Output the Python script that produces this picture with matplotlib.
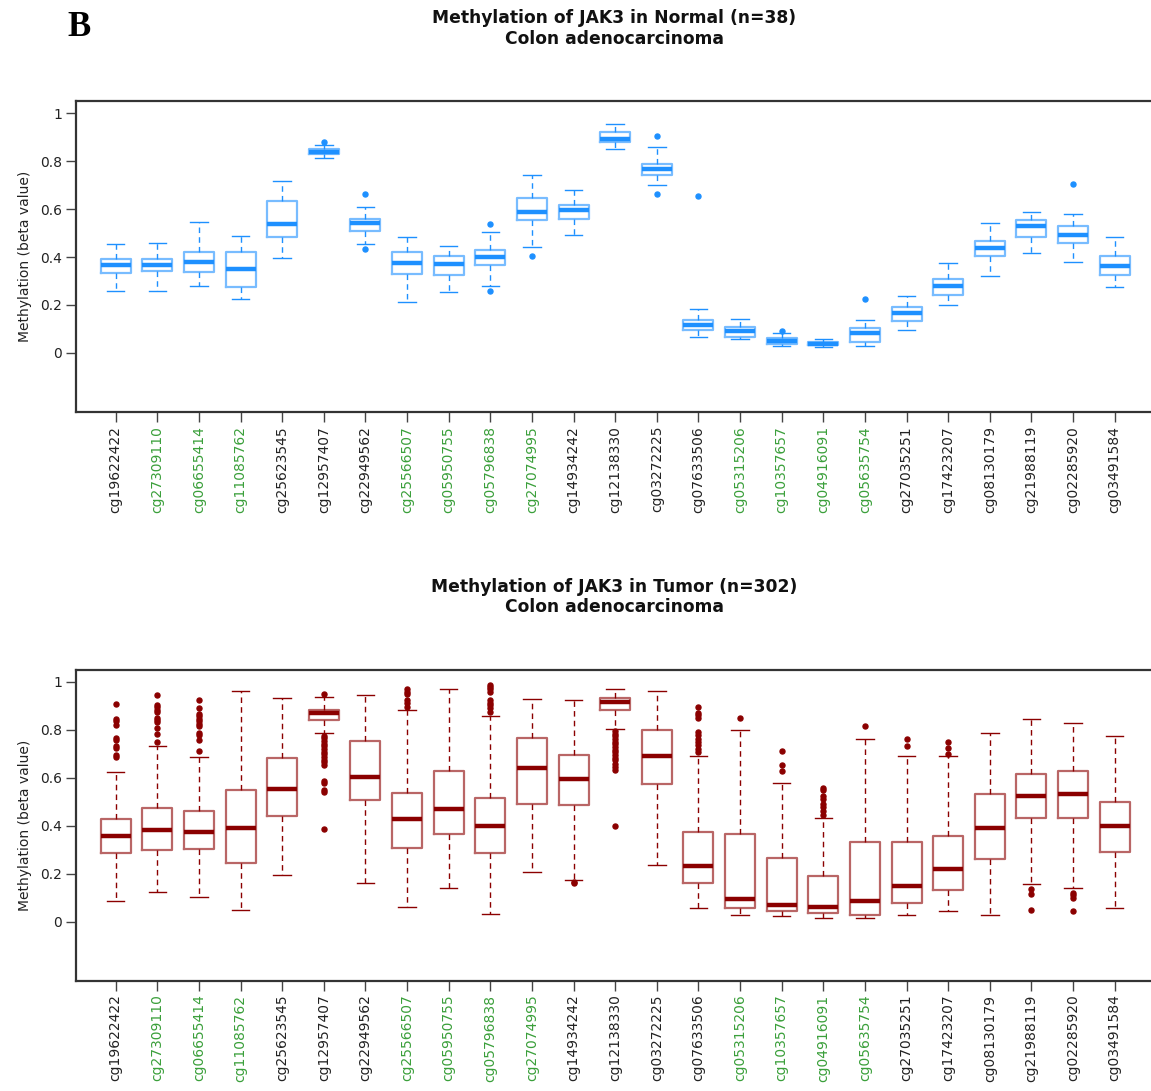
import matplotlib.pyplot as plt

probes = ["cg19622422", "cg27309110", "cg06655414", "cg11085762", "cg25623545",
          "cg12957407", "cg22949562", "cg25566507", "cg05950755", "cg05796838",
          "cg27074995", "cg14934242", "cg12138330", "cg03272225", "cg07633506",
          "cg05315206", "cg10357657", "cg04916091", "cg05635754", "cg27035251",
          "cg17423207", "cg08130179", "cg21988119", "cg02285920", "cg03491584"]
# probes printed in green
island_probes = ["cg27309110", "cg06655414", "cg11085762", "cg25566507", "cg05950755",
                 "cg05796838", "cg27074995", "cg05315206", "cg10357657", "cg04916091",
                 "cg05635754"]

# normal tissue, n=38
normal_whislo = [0.260, 0.260, 0.280, 0.227, 0.398, 0.812, 0.455, 0.214, 0.256, 0.280,
                 0.442, 0.494, 0.850, 0.702, 0.067, 0.058, 0.029, 0.024, 0.029, 0.096,
                 0.199, 0.323, 0.418, 0.379, 0.274]
normal_q1 = [0.333, 0.341, 0.337, 0.277, 0.485, 0.831, 0.510, 0.330, 0.327, 0.368,
             0.554, 0.561, 0.880, 0.741, 0.096, 0.068, 0.039, 0.031, 0.046, 0.134,
             0.241, 0.404, 0.486, 0.461, 0.326]
normal_med = [0.366, 0.366, 0.380, 0.352, 0.540, 0.841, 0.542, 0.376, 0.372, 0.400,
              0.589, 0.595, 0.893, 0.769, 0.116, 0.092, 0.050, 0.039, 0.082, 0.167,
              0.280, 0.437, 0.532, 0.494, 0.362]
normal_q3 = [0.393, 0.394, 0.422, 0.422, 0.636, 0.850, 0.560, 0.421, 0.403, 0.429,
             0.645, 0.617, 0.921, 0.790, 0.136, 0.110, 0.063, 0.046, 0.103, 0.191,
             0.308, 0.469, 0.553, 0.528, 0.403]
normal_whishi = [0.455, 0.460, 0.546, 0.490, 0.717, 0.869, 0.611, 0.485, 0.447, 0.504,
                 0.745, 0.680, 0.955, 0.859, 0.185, 0.142, 0.082, 0.057, 0.138, 0.237,
                 0.375, 0.542, 0.588, 0.579, 0.485]
normal_fliers = [[], [], [], [], [], [0.882], [0.664, 0.432], [], [], [0.539, 0.260],
                 [0.403], [], [], [0.905, 0.662], [0.655], [], [0.093], [], [0.224], [],
                 [], [], [], [0.706], []]

# tumour tissue, n=302
tumor_whislo = [0.085, 0.123, 0.103, 0.047, 0.194, 0.787, 0.162, 0.060, 0.141, 0.032,
                0.208, 0.174, 0.805, 0.237, 0.056, 0.026, 0.022, 0.014, 0.014, 0.028,
                0.042, 0.028, 0.156, 0.141, 0.056]
tumor_q1 = [0.287, 0.299, 0.301, 0.245, 0.439, 0.843, 0.506, 0.306, 0.365, 0.288,
            0.489, 0.487, 0.883, 0.575, 0.160, 0.057, 0.046, 0.035, 0.028, 0.079,
            0.130, 0.260, 0.432, 0.432, 0.292]
tumor_med = [0.357, 0.383, 0.373, 0.389, 0.554, 0.869, 0.602, 0.426, 0.469, 0.398,
             0.641, 0.593, 0.916, 0.692, 0.231, 0.095, 0.071, 0.060, 0.085, 0.150,
             0.221, 0.389, 0.525, 0.531, 0.398]
tumor_q3 = [0.428, 0.476, 0.461, 0.547, 0.681, 0.882, 0.753, 0.538, 0.630, 0.517,
            0.765, 0.696, 0.932, 0.801, 0.372, 0.366, 0.265, 0.192, 0.331, 0.330,
            0.358, 0.533, 0.616, 0.628, 0.499]
tumor_whishi = [0.625, 0.734, 0.687, 0.962, 0.933, 0.939, 0.946, 0.882, 0.971, 0.858,
                0.929, 0.923, 0.971, 0.962, 0.691, 0.801, 0.578, 0.432, 0.762, 0.691,
                0.691, 0.787, 0.844, 0.830, 0.773]
tumor_fliers = [
    [0.909, 0.845, 0.836, 0.822, 0.766, 0.756, 0.734, 0.726, 0.694, 0.685],
    [0.944, 0.904, 0.894, 0.884, 0.875, 0.851, 0.843, 0.831, 0.808, 0.784, 0.749],
    [0.923, 0.891, 0.868, 0.858, 0.845, 0.836, 0.826, 0.818, 0.788, 0.779, 0.759, 0.713],
    [],
    [],
    [0.948, 0.776, 0.765, 0.753, 0.742, 0.731, 0.720, 0.709, 0.698, 0.687, 0.675,
     0.664, 0.652, 0.586, 0.578, 0.547, 0.539, 0.386],
    [],
    [0.971, 0.960, 0.951, 0.923, 0.912, 0.896],
    [],
    [0.989, 0.979, 0.969, 0.960, 0.923, 0.912, 0.903, 0.891, 0.875],
    [],
    [0.167, 0.162],
    [0.795, 0.784, 0.773, 0.762, 0.751, 0.740, 0.728, 0.717, 0.706, 0.695, 0.684,
     0.673, 0.659, 0.645, 0.631, 0.400],
    [],
    [0.897, 0.870, 0.861, 0.851, 0.791, 0.777, 0.763, 0.749, 0.735, 0.721, 0.708],
    [0.851],
    [0.713, 0.655, 0.627],
    [0.558, 0.550, 0.522, 0.513, 0.489, 0.478, 0.460, 0.443],
    [0.815],
    [0.763, 0.733],
    [0.749, 0.726, 0.701],
    [],
    [0.136, 0.116, 0.049],
    [0.120, 0.109, 0.097, 0.043],
    [],
]

yticks = [0, 0.2, 0.4, 0.6, 0.8, 1]
ytick_labels = ["0", "0.2", "0.4", "0.6", "0.8", "1"]

W, H = 1151, 1091
fig = plt.figure(figsize=(W / 100, H / 100), dpi=100)


def draw_panel(rect, whislo, q1, med, q3, whishi, fliers, color, title):
    ax = fig.add_axes(rect)
    stats = []
    for i in range(len(probes)):
        stats.append(dict(whislo=whislo[i], q1=q1[i], med=med[i], q3=q3[i],
                          whishi=whishi[i], fliers=fliers[i]))
    ax.bxp(stats, widths=0.72, capwidths=0.42,
           boxprops=dict(color=color, alpha=0.6, linewidth=1.6),
           medianprops=dict(color=color, linewidth=3.2, solid_capstyle="butt"),
           whiskerprops=dict(color=color, linewidth=1.0, linestyle=(0, (4, 3))),
           capprops=dict(color=color, linewidth=1.0),
           flierprops=dict(marker="o", markersize=3.6, markerfacecolor=color,
                           markeredgecolor=color, linestyle="none"))
    ax.set_xlim(0.046, 25.92)
    ax.set_ylim(-0.247, 1.05)
    ax.set_yticks(yticks)
    ax.set_yticklabels(ytick_labels, fontsize=10, color="#222222")
    ax.set_xticks(range(1, len(probes) + 1))
    ax.set_xticklabels(probes, rotation=90, fontsize=10)
    for lab in ax.get_xticklabels():
        lab.set_color("#3a9f3a" if lab.get_text() in island_probes else "#222222")
    ax.tick_params(length=7, width=1, color="#444444", direction="out", pad=3)
    ax.set_ylabel("Methylation (beta value)", fontsize=10, color="#222222", labelpad=6)
    for sp in ax.spines.values():
        sp.set_linewidth(1.6)
        sp.set_color("#333333")
    ax.set_title(title, fontsize=12.3, fontweight="bold", linespacing=1.2,
                 color="#111111", pad=41.5)
    return ax


left = 76 / W
width = 1077 / W
draw_panel([left, 1 - 412 / H, width, 310.5 / H],
           normal_whislo, normal_q1, normal_med, normal_q3, normal_whishi,
           normal_fliers, "#1E90FF",
           "Methylation of JAK3 in Normal (n=38)\nColon adenocarcinoma")
draw_panel([left, 1 - 980.7 / H, width, 310.7 / H],
           tumor_whislo, tumor_q1, tumor_med, tumor_q3, tumor_whishi,
           tumor_fliers, "#8B0000",
           "Methylation of JAK3 in Tumor (n=302)\nColon adenocarcinoma")

fig.text(79 / W, 1 - 27 / H, "B", fontsize=25, fontweight="bold",
         family="Liberation Serif", ha="center", va="center")

fig.savefig("out.png", dpi=100)
